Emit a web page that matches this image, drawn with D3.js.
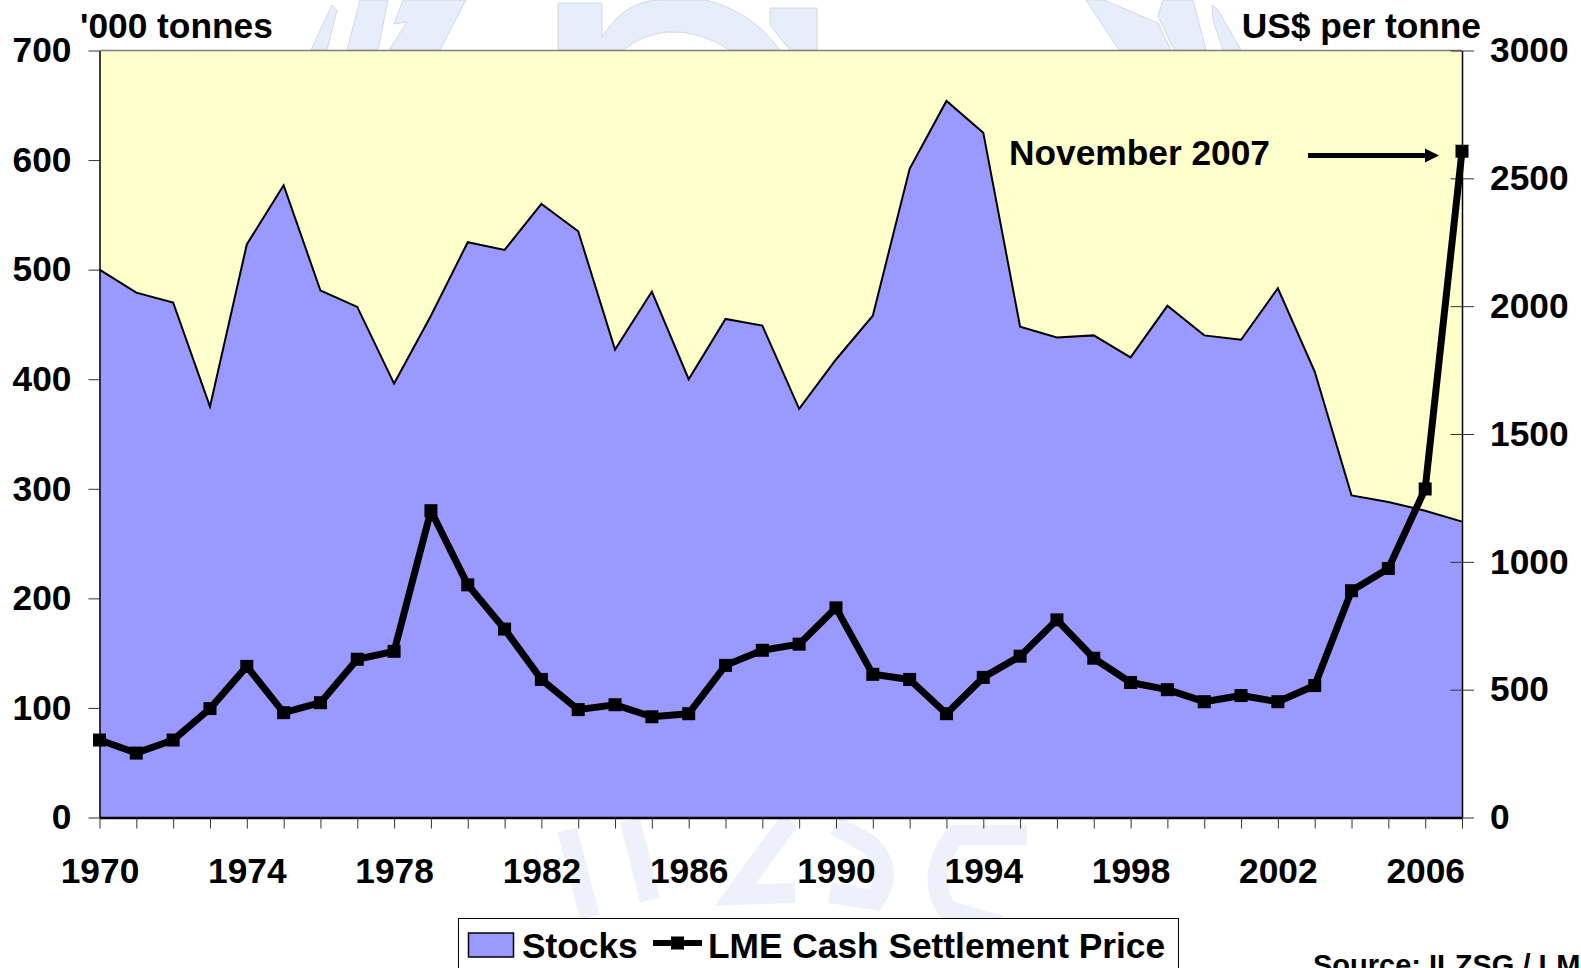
<!DOCTYPE html>
<html>
<head>
<meta charset="utf-8">
<script src="https://cdn.jsdelivr.net/npm/d3@7"></script>
<style>
  html, body { margin: 0; background: #fff; overflow: hidden; }
  text { font-family: "Liberation Sans", Arial, sans-serif; font-weight: bold; fill: #000; }
</style>
</head>
<body>
<div id="visual"></div>
<script>
var years = d3.range(1970, 2008);
var stocks = [500, 479, 470, 375, 523, 577, 481, 466, 396, 458, 525, 518, 560, 535, 427, 480, 400, 455, 449, 373,
  418, 458, 592, 654, 625, 448, 438, 440, 420, 467, 440, 436, 483, 407, 294, 288, 280, 270];
var prices = [303, 252, 303, 426, 591, 410, 449, 619, 650, 1200, 910, 737, 540, 422, 441, 394, 406, 595, 654, 678,
  820, 560, 540, 406, 548, 631, 773, 623, 528, 500, 453, 477, 453, 516, 887, 974, 1285, 2606];
var leftTicks = [0, 100, 200, 300, 400, 500, 600, 700];
var rightTicks = [0, 500, 1000, 1500, 2000, 2500, 3000];
var yearLabels = [1970, 1974, 1978, 1982, 1986, 1990, 1994, 1998, 2002, 2006];

var width = 1581,
  height = 968,
  left = 99.5,
  right = 1462,
  top_ = 50.5,
  bottom = 817.5,
  fontSize = 35.3;

var svg = d3.select("#visual").append("svg")
  .attr("width", width)
  .attr("height", height);

// Logo watermark behind the chart, only its edges show above and below the plot
var logoShapes = [
  "M311,50L332,5L337,10L327,50Z",
  "M347,50L360,0H388L378,50Z",
  "M389,50L407,22L394,24L403,0H466L440,50Z",
  "M558,3H602V37Q625,0 660,0H705Q750,10 780,50H730Q700,30 667,32Q640,35 624,50H558Z",
  "M770,8H817V50H790L770,25Z",
  "M1086,0H1104L1158,23L1171,50H1119Z",
  "M1163,0H1193L1206,50H1174L1158,16Z",
  "M1212,5L1218,10L1241,50H1223L1213,20Z"
];
svg.selectAll(".logo")
  .data(logoShapes)
  .enter()
  .append("path")
  .attr("class", "logo")
  .attr("d", d => d)
  .attr("fill", "#e6edfb")
  .attr("stroke", "#d4d8e0")
  .attr("stroke-width", 1);

// The blurred logo letters under the year labels
var logoLetters = [
  "M567,830L590,917",
  "M630,820L650,900",
  "M790,820L735,895L795,893",
  "M835,825L870,845Q895,870 875,900L830,893",
  "M1027,835H955Q925,875 947,910L1000,925"
];
svg.selectAll(".letter")
  .data(logoLetters)
  .enter()
  .append("path")
  .attr("class", "letter")
  .attr("d", d => d)
  .attr("fill", "none")
  .attr("stroke", "#eef1fb")
  .attr("stroke-width", 20);

// Scales
var xScale = d3.scaleLinear().domain([1970, 2007]).range([left, right]);
var yLeft = d3.scaleLinear().domain([0, 700]).range([bottom, top_]);
var yRight = d3.scaleLinear().domain([0, 3000]).range([bottom, top_]);

// Plot background
svg.append("rect")
  .attr("x", left).attr("y", top_)
  .attr("width", right - left).attr("height", bottom - top_)
  .attr("fill", "#ffffcc");
svg.append("line")
  .attr("x1", left).attr("x2", right)
  .attr("y1", top_).attr("y2", top_)
  .attr("stroke", "#808080").attr("stroke-width", 1.5);

// Stocks area
var area = d3.area()
  .x((d, i) => xScale(years[i]))
  .y0(bottom)
  .y1(d => yLeft(d));
svg.append("path")
  .attr("d", area(stocks))
  .attr("fill", "#9999ff");
var stockLine = d3.line()
  .x((d, i) => xScale(years[i]))
  .y(d => yLeft(d));
svg.append("path")
  .attr("d", stockLine(stocks))
  .attr("fill", "none")
  .attr("stroke", "#000")
  .attr("stroke-width", 2);

// Axes
function styleAxis(g) {
  g.select(".domain").attr("stroke", "#000").attr("stroke-width", 1.5);
  g.selectAll(".tick line").attr("stroke", "#333").attr("stroke-width", 1);
  g.selectAll("text").attr("font-size", fontSize).attr("font-family", null);
}

svg.append("g")
  .attr("transform", "translate(" + left + ",0)")
  .call(d3.axisLeft(yLeft).tickValues(leftTicks).tickSize(11).tickSizeOuter(0).tickPadding(17))
  .call(styleAxis);

var rightAxis = svg.append("g")
  .attr("transform", "translate(" + right + ",0)")
  .call(d3.axisRight(yRight)
    .tickValues(rightTicks)
    .tickSize(12)
    .tickSizeOuter(0)
    .tickPadding(16)
    .tickFormat(d3.format("d")))
  .call(styleAxis);
rightAxis.selectAll(".tick line").attr("x1", -11.5);

var xAxis = svg.append("g")
  .attr("transform", "translate(0," + bottom + ")")
  .call(d3.axisBottom(xScale)
    .tickValues(years)
    .tickSize(11)
    .tickSizeOuter(0)
    .tickPadding(29)
    .tickFormat(d => yearLabels.indexOf(d) >= 0 ? d : ""))
  .call(styleAxis);
xAxis.select(".domain").attr("stroke-width", 2.5);

// Price line
var priceLine = d3.line()
  .x((d, i) => xScale(years[i]))
  .y(d => yRight(d));
svg.append("path")
  .attr("d", priceLine(prices))
  .attr("fill", "none")
  .attr("stroke", "#000")
  .attr("stroke-width", 7)
  .attr("stroke-linejoin", "round");
svg.selectAll(".marker")
  .data(prices)
  .enter()
  .append("rect")
  .attr("class", "marker")
  .attr("x", (d, i) => xScale(years[i]) - 6.5)
  .attr("y", d => yRight(d) - 6.5)
  .attr("width", 13)
  .attr("height", 13)
  .attr("fill", "#000");

// Axis titles
svg.append("text").attr("x", 80).attr("y", 38).attr("font-size", fontSize).text("'000 tonnes");
svg.append("text").attr("x", 1481).attr("y", 38).attr("font-size", fontSize)
  .attr("text-anchor", "end").text("US$ per tonne");

// Annotation
svg.append("text").attr("x", 1009).attr("y", 165).attr("font-size", fontSize).text("November 2007");
svg.append("line")
  .attr("x1", 1308).attr("x2", 1430)
  .attr("y1", 155.5).attr("y2", 155.5)
  .attr("stroke", "#000").attr("stroke-width", 5);
svg.append("path")
  .attr("d", "M1439,155.5L1425,148.5V162.5Z")
  .attr("fill", "#000");

// Legend
var legend = svg.append("g");
legend.append("rect")
  .attr("x", 458.5).attr("y", 918.5)
  .attr("width", 720).attr("height", 60)
  .attr("fill", "#fff").attr("stroke", "#000").attr("stroke-width", 1);
legend.append("rect")
  .attr("x", 468.5).attr("y", 933)
  .attr("width", 45).attr("height", 24)
  .attr("fill", "#9999ff").attr("stroke", "#000").attr("stroke-width", 1.5);
legend.append("text").attr("x", 522).attr("y", 958).attr("font-size", fontSize).text("Stocks");
legend.append("line")
  .attr("x1", 653).attr("x2", 702)
  .attr("y1", 943).attr("y2", 943)
  .attr("stroke", "#000").attr("stroke-width", 6);
legend.append("rect")
  .attr("x", 671).attr("y", 936.5)
  .attr("width", 13).attr("height", 13)
  .attr("fill", "#000");
legend.append("text").attr("x", 708).attr("y", 958).attr("font-size", fontSize).text("LME Cash Settlement Price");

// Source, runs off the page edge in the original as well
svg.append("text").attr("x", 1313).attr("y", 975).attr("font-size", 29).text("Source: ILZSG / LME");
</script>
</body>
</html>
